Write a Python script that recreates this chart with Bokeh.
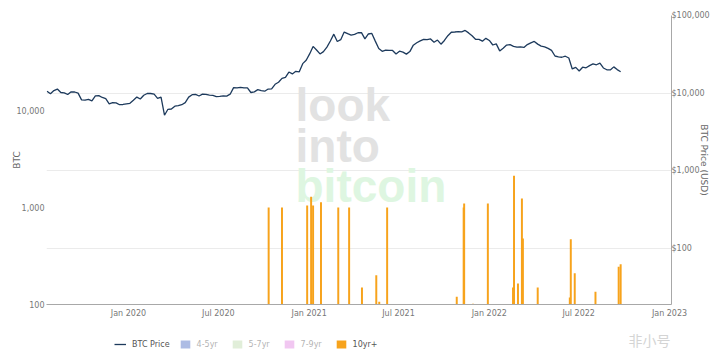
import pandas as pd
from bokeh.plotting import figure
from bokeh.layouts import column
from bokeh.models import (Range1d, LogScale, LogAxis, FixedTicker, NumeralTickFormatter, Grid,
                          Legend, LegendItem, Label, DatetimeTickFormatter, MonthsTicker,
                          ColumnDataSource)
from bokeh.embed import file_html
from bokeh.resources import INLINE

# ---------------- data ----------------
price_dates = [
    "2019-07-20", "2019-07-27", "2019-08-03", "2019-08-10", "2019-08-17", "2019-08-24", "2019-08-31",
    "2019-09-07", "2019-09-14", "2019-09-21", "2019-09-28", "2019-10-05", "2019-10-12", "2019-10-19",
    "2019-10-26", "2019-11-02", "2019-11-09", "2019-11-16", "2019-11-23", "2019-11-30", "2019-12-07",
    "2019-12-14", "2019-12-21", "2019-12-28",
    "2020-01-04", "2020-01-11", "2020-01-18", "2020-01-25", "2020-02-01", "2020-02-08", "2020-02-15",
    "2020-02-22", "2020-02-29", "2020-03-07", "2020-03-14", "2020-03-21", "2020-03-28", "2020-04-04",
    "2020-04-11", "2020-04-18", "2020-04-25", "2020-05-02", "2020-05-09", "2020-05-16", "2020-05-23",
    "2020-05-30", "2020-06-06", "2020-06-13", "2020-06-20", "2020-06-27", "2020-07-04", "2020-07-11",
    "2020-07-18", "2020-07-25", "2020-08-01", "2020-08-08", "2020-08-15", "2020-08-22", "2020-08-29",
    "2020-09-05", "2020-09-12", "2020-09-19", "2020-09-26", "2020-10-03", "2020-10-10", "2020-10-17",
    "2020-10-24", "2020-10-31", "2020-11-07", "2020-11-14", "2020-11-21", "2020-11-28", "2020-12-05",
    "2020-12-12", "2020-12-19", "2020-12-26",
    "2021-01-02", "2021-01-09", "2021-01-16", "2021-01-23", "2021-01-30", "2021-02-06", "2021-02-13",
    "2021-02-20", "2021-02-27", "2021-03-06", "2021-03-13", "2021-03-20", "2021-03-27", "2021-04-03",
    "2021-04-10", "2021-04-17", "2021-04-24", "2021-05-01", "2021-05-08", "2021-05-15", "2021-05-22",
    "2021-05-29", "2021-06-05", "2021-06-12", "2021-06-19", "2021-06-26", "2021-07-03", "2021-07-10",
    "2021-07-17", "2021-07-24", "2021-07-31", "2021-08-07", "2021-08-14", "2021-08-21", "2021-08-28",
    "2021-09-04", "2021-09-11", "2021-09-18", "2021-09-25", "2021-10-02", "2021-10-09", "2021-10-16",
    "2021-10-23", "2021-10-30", "2021-11-06", "2021-11-13", "2021-11-20", "2021-11-27", "2021-12-04",
    "2021-12-11", "2021-12-18", "2021-12-25",
    "2022-01-01", "2022-01-08", "2022-01-15", "2022-01-22", "2022-01-29", "2022-02-05", "2022-02-12",
    "2022-02-19", "2022-02-26", "2022-03-05", "2022-03-12", "2022-03-19", "2022-03-26", "2022-04-02",
    "2022-04-09", "2022-04-16", "2022-04-23", "2022-04-30", "2022-05-07", "2022-05-14", "2022-05-21",
    "2022-05-28", "2022-06-04", "2022-06-11", "2022-06-18", "2022-06-25", "2022-07-02", "2022-07-09",
    "2022-07-16", "2022-07-23", "2022-07-30", "2022-08-06", "2022-08-13", "2022-08-20", "2022-08-27",
    "2022-09-03", "2022-09-10", "2022-09-17", "2022-09-24",
]
price_values = [
    10600, 9850, 10800, 11300, 10200, 10100, 9600,
    10400, 10350, 10000, 8200, 8150, 8300, 7950,
    9250, 9300, 8800, 8500, 7300, 7550, 7500,
    7100, 7150, 7300,
    7400, 8100, 8900, 8400, 9400, 9900, 9900,
    9700, 8550, 8900, 5200, 6200, 6250, 6800,
    6900, 7100, 7550, 8900, 9550, 9650, 9200,
    9700, 9650, 9450, 9350, 9000, 9100, 9250,
    9150, 9700, 11800, 11700, 11900, 11700, 11700,
    10200, 10400, 11100, 10750, 10600, 11300, 11350,
    13000, 13800, 15500, 16000, 18700, 17700, 19100,
    18800, 24000, 26500,
    32000, 40000, 36000, 32000, 34300, 39200, 47000,
    57500, 46200, 48800, 61200, 58300, 55900, 57100,
    60000, 60100, 50100, 57800, 58800, 46800, 37500,
    34600, 35800, 35500, 35500, 32000, 34700, 33800,
    31800, 34300, 41500, 44600, 47100, 49300, 48900,
    49900, 45200, 48300, 42700, 47700, 54900, 60900,
    61300, 61900, 61500, 64200, 59700, 54800, 49400,
    49300, 46700, 50800,
    47700, 41700, 43100, 35000, 37900, 41600, 42200,
    40100, 39100, 39400, 38800, 42200, 44500, 46400,
    42800, 40400, 39500, 37700, 35500, 30100, 29400,
    29000, 29900, 28400, 20500, 21500, 19300, 21600,
    21200, 22600, 23800, 23200, 24400, 21100, 20000,
    19900, 21800, 20100, 18900,
]

bar_dates = [
    "2020-10-11", "2020-11-07", "2020-12-28", "2021-01-05", "2021-01-09", "2021-01-25",
    "2021-03-01", "2021-03-23", "2021-04-18", "2021-05-17", "2021-05-23", "2021-06-08",
    "2021-10-27", "2021-11-10", "2021-11-11", "2021-11-29", "2021-12-29", "2022-02-18",
    "2022-02-20", "2022-02-28", "2022-03-08", "2022-03-10", "2022-04-09", "2022-06-13",
    "2022-06-15", "2022-06-23", "2022-08-04", "2022-09-20", "2022-09-24",
]
bar_values = [
    1000, 1000, 1050, 1290, 1050, 1130,
    1000, 1000, 150, 200, 107, 1000,
    120, 1000, 1100, 102, 1100, 150,
    2130, 165, 1240, 480, 150, 118,
    470, 210, 135, 245, 260,
]

series_names = ["4-5yr", "5-7yr", "7-9yr", "10yr+"]
series_colors = ["#4a6cc4", "#bcd9aa", "#e183e1", "#f7a31c"]
line_color = "#1d3a5c"
left_ticks = [100, 1000, 10000]
right_ticks = [100, 1000, 10000, 100000]

# ---------------- main figure ----------------
FONT = "DejaVu Sans"
p = figure(width=711, height=320, x_axis_type="datetime", y_axis_type="log",
           output_backend="svg", toolbar_location=None,
           x_range=Range1d(pd.Timestamp("2019-07-19"), pd.Timestamp("2023-01-05")),
           y_range=Range1d(100, 95500),
           min_border_left=46, min_border_right=39, min_border_top=15, min_border_bottom=16)
p.extra_y_ranges = {"price": Range1d(19, 100000)}
p.extra_y_scales = {"price": LogScale()}
p.outline_line_color = None
p.xgrid.visible = False
p.ygrid.visible = False

grid = Grid(dimension=1, ticker=FixedTicker(ticks=right_ticks), y_range_name="price",
            grid_line_color="#ebebeb", grid_line_width=1)
p.add_layout(grid)

# watermark
for txt, yy, col in [("look", 200, "#e2e2e2"), ("into", 159, "#e2e2e2"), ("bitcoin", 119, "#def6e1")]:
    p.add_layout(Label(x=249, y=yy, x_units="screen", y_units="screen", text=txt,
                       text_font="Liberation Sans", text_font_style="bold", text_font_size="46px",
                       text_color=col, text_baseline="alphabetic", level="underlay"))

# bars
day_ms = 86400000
bsrc = ColumnDataSource(dict(x=pd.to_datetime(bar_dates), top=bar_values))
p.vbar(x="x", top="top", bottom=1, width=4 * day_ms, fill_color=series_colors[3],
       line_color=None, source=bsrc)

# price line
psrc = ColumnDataSource(dict(x=pd.to_datetime(price_dates), y=price_values))
p.line("x", "y", source=psrc, y_range_name="price", line_color=line_color, line_width=1.3)

# axes
def style_axis(ax, standoff):
    ax.major_tick_line_color = None
    ax.minor_tick_line_color = None
    ax.major_tick_out = 0
    ax.major_tick_in = 0
    ax.minor_tick_out = 0
    ax.minor_tick_in = 0
    ax.major_label_standoff = standoff
    ax.major_label_text_font = FONT
    ax.major_label_text_font_size = "8px"
    ax.major_label_text_color = "#777777"
    ax.axis_label_text_font = FONT
    ax.axis_label_text_font_size = "9px"
    ax.axis_label_text_font_style = "normal"
    ax.axis_label_text_color = "#666666"

xa = p.below[0]
xa.ticker = MonthsTicker(months=[0, 6])
xa.formatter = DatetimeTickFormatter(months="%b %Y", years="%b %Y", days="%b %Y")
xa.axis_line_color = "#a8a8a8"
style_axis(xa, 4)

ya = p.left[0]
ya.ticker = FixedTicker(ticks=left_ticks)
ya.formatter = NumeralTickFormatter(format="0,0")
ya.axis_line_color = None
style_axis(ya, 2)
ya.axis_label = "BTC"
ya.axis_label_standoff = -8

ra = LogAxis(y_range_name="price", ticker=FixedTicker(ticks=right_ticks),
             formatter=NumeralTickFormatter(format="$0,0"))
ra.axis_line_color = "#a8a8a8"
style_axis(ra, 0)
ra.axis_label = "BTC Price (USD)"
ra.axis_label_standoff = -14
p.add_layout(ra, "right")

# ---------------- footer with legend ----------------
f = figure(width=711, height=32, output_backend="svg", toolbar_location=None,
           x_range=Range1d(0, 1), y_range=Range1d(0, 1),
           x_axis_location=None, y_axis_location=None,
           min_border_left=0, min_border_right=0, min_border_top=0, min_border_bottom=0)
f.outline_line_color = None
f.xgrid.visible = False
f.ygrid.visible = False

# legend proxies (same data, far outside this strip's ranges)
legend_line = f.line(x=pd.to_datetime(price_dates), y=price_values, line_color=line_color, line_width=1.3)
legend_bars = []
for name, col in zip(series_names, series_colors):
    r = f.vbar(x=pd.to_datetime(bar_dates), top=bar_values, bottom=1, width=4 * day_ms,
               fill_color=col, line_color=None)
    if name != "10yr+":
        r.visible = False
    legend_bars.append(r)

legend = Legend(items=[LegendItem(label="BTC Price", renderers=[legend_line])] +
                      [LegendItem(label=n, renderers=[r]) for n, r in zip(series_names, legend_bars)],
                orientation="horizontal", location=(68, 3), padding=0, margin=0,
                border_line_alpha=0, background_fill_alpha=0, label_text_font=FONT,
                label_text_font_size="8px", label_text_color="#555555", label_height=10,
                label_width=25, glyph_height=10, glyph_width=12, label_standoff=6, spacing=9,
                click_policy="hide", inactive_fill_color="white", inactive_fill_alpha=0.55)
f.add_layout(legend)

f.add_layout(Label(x=624, y=13, x_units="screen", y_units="screen", text="非小号",
                   text_align="right", text_baseline="middle", text_font="Noto Sans CJK SC",
                   text_font_size="14px", text_color="#d4d4d4"))

layout = column(p, f, spacing=0)
open("out.html", "w").write(file_html(layout, INLINE))
